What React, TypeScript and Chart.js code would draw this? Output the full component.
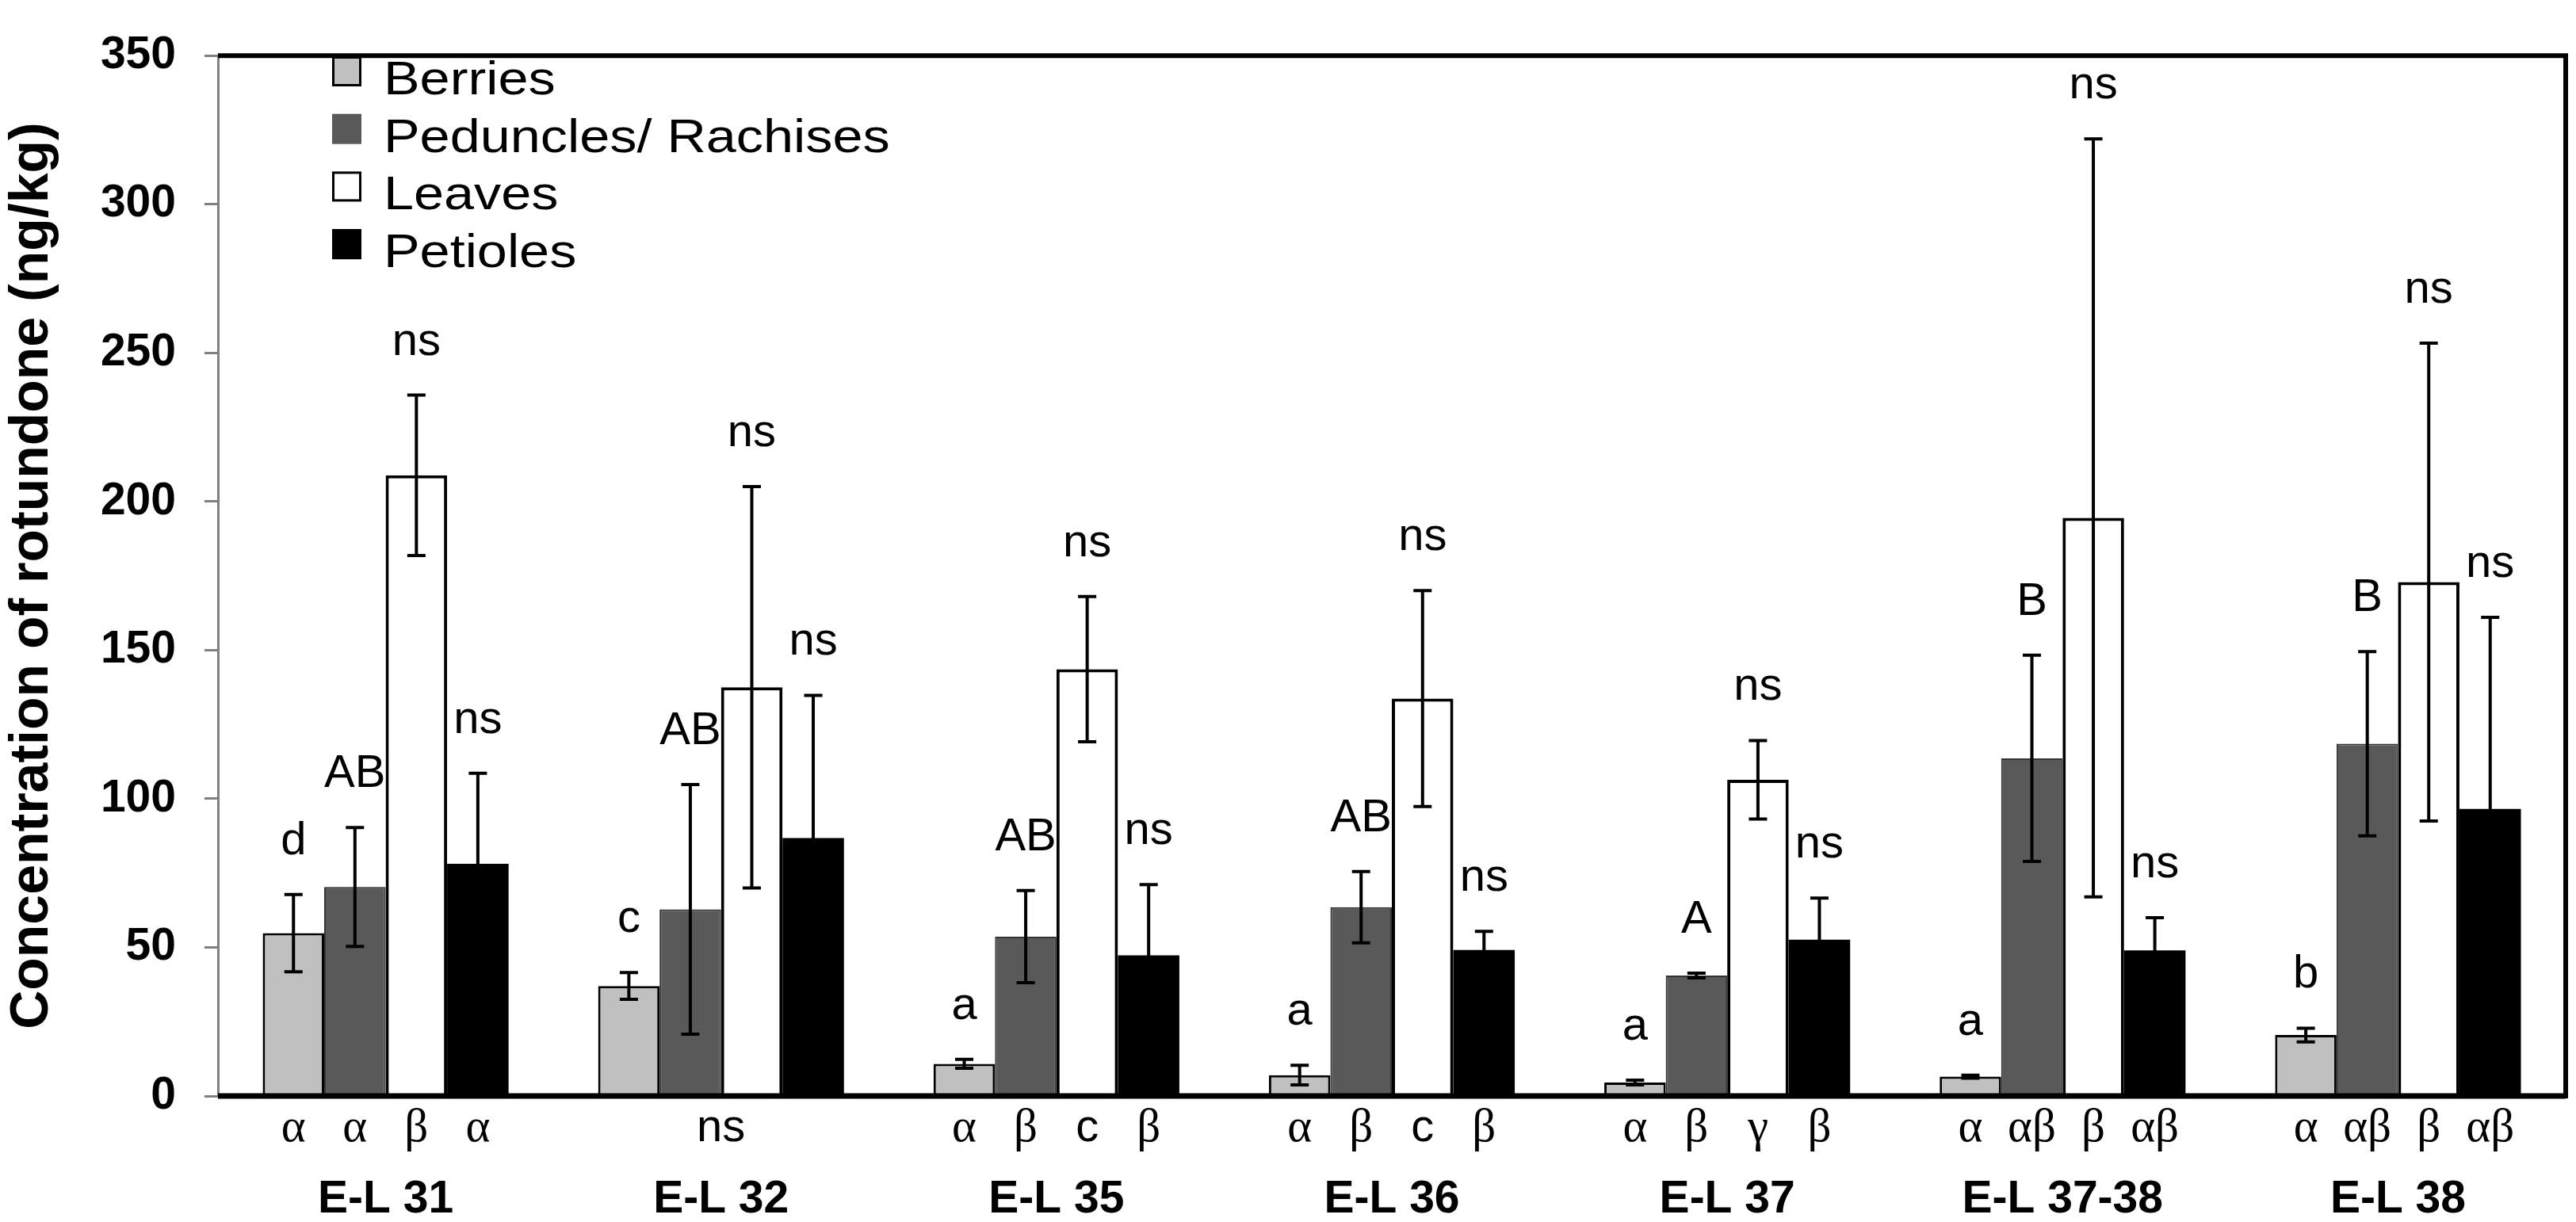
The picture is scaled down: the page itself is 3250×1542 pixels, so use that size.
import React, { useEffect, useRef } from 'react';
import { Chart, registerables } from 'chart.js';

Chart.register(...registerables);

const groups = ['E-L 31', 'E-L 32', 'E-L 35', 'E-L 36', 'E-L 37', 'E-L 37-38', 'E-L 38'];
const seriesNames = ['Berries', 'Peduncles/ Rachises', 'Leaves', 'Petioles'];

const berries = [54.8, 37.0, 10.8, 7.0, 4.5, 6.5, 20.5];
const berriesErr = [13.0, 4.5, 1.5, 3.3, 0.8, 0.5, 2.3];
const peduncles = [70.3, 62.8, 53.6, 63.5, 40.5, 113.6, 118.5];
const pedunclesErr = [20.0, 42.0, 15.5, 12.0, 0.8, 34.7, 31.0];
const leaves = [208.8, 137.5, 143.6, 133.7, 106.4, 194.5, 172.9];
const leavesErr = [27.0, 67.5, 24.4, 36.3, 13.2, 127.5, 80.4];
const petioles = [78.1, 86.8, 47.3, 49.1, 52.6, 49.0, 96.6];
const petiolesErr = [30.5, 48.0, 23.8, 6.3, 14.0, 11.0, 64.4];

const berriesLetters = ['d', 'c', 'a', 'a', 'a', 'a', 'b'];
const pedunclesLetters = ['AB', 'AB', 'AB', 'AB', 'A', 'B', 'B'];
const leavesLetters = ['ns', 'ns', 'ns', 'ns', 'ns', 'ns', 'ns'];
const petiolesLetters = ['ns', 'ns', 'ns', 'ns', 'ns', 'ns', 'ns'];

// letters below the axis, per group (a single entry is centred under the whole group)
const belowLetters = [
  ['α', 'α', 'β', 'α'],
  ['ns'],
  ['α', 'β', 'c', 'β'],
  ['α', 'β', 'c', 'β'],
  ['α', 'β', 'γ', 'β'],
  ['α', 'αβ', 'β', 'αβ'],
  ['α', 'αβ', 'β', 'αβ'],
];

const yTicks = [0, 50, 100, 150, 200, 250, 300, 350];

const values = [berries, peduncles, leaves, petioles];
const errors = [berriesErr, pedunclesErr, leavesErr, petiolesErr];
const letters = [berriesLetters, pedunclesLetters, leavesLetters, petiolesLetters];

const fills = ['#c0c0c0', '#595959', '#ffffff', '#000000'];
const borders = ['#000000', '#333333', '#000000', '#000000'];
const borderWidths = [3, 2, 4, 0];

const SANS = '"Liberation Sans", Arial, Helvetica, sans-serif';
const SERIF = '"Liberation Serif", "Times New Roman", serif';

function drawStretched(ctx: any, text: string, x: number, y: number, sx: number, align: string) {
  ctx.save();
  ctx.translate(x, y);
  ctx.scale(sx, 1);
  ctx.textAlign = align;
  ctx.fillText(text, 0, 0);
  ctx.restore();
}

const overlay = {
  id: 'overlay',
  afterDatasetsDraw(chart: any) {
    const ctx = chart.ctx;
    const ys = chart.scales.y;
    const xs = chart.scales.x;
    const area = chart.chartArea;
    ctx.save();
    // error bars
    ctx.strokeStyle = '#000';
    ctx.lineWidth = 4;
    errors.forEach((errArr, di) => {
      const meta = chart.getDatasetMeta(di);
      meta.data.forEach((el: any, i: number) => {
        const v = values[di][i];
        const e = errArr[i];
        const yt = ys.getPixelForValue(v + e);
        const yb = ys.getPixelForValue(v - e);
        ctx.beginPath();
        ctx.moveTo(el.x, yt);
        ctx.lineTo(el.x, yb);
        ctx.moveTo(el.x - 11.5, yt);
        ctx.lineTo(el.x + 11.5, yt);
        ctx.moveTo(el.x - 11.5, yb);
        ctx.lineTo(el.x + 11.5, yb);
        ctx.stroke();
      });
    });
    // x axis line and plot border
    const y0 = ys.getPixelForValue(0);
    ctx.lineWidth = 7;
    ctx.beginPath();
    ctx.moveTo(area.left, y0);
    ctx.lineTo(area.right, y0);
    ctx.stroke();
    ctx.lineWidth = 6;
    ctx.beginPath();
    ctx.moveTo(area.left, area.top);
    ctx.lineTo(area.right, area.top);
    ctx.lineTo(area.right, y0 + 3);
    ctx.stroke();

    // annotations above bars
    ctx.fillStyle = '#000';
    ctx.textAlign = 'center';
    ctx.textBaseline = 'alphabetic';
    ctx.font = `58px ${SANS}`;
    letters.forEach((arr, di) => {
      const meta = chart.getDatasetMeta(di);
      meta.data.forEach((el: any, i: number) => {
        const top = ys.getPixelForValue(values[di][i] + errors[di][i]);
        ctx.fillText(arr[i], el.x, top - 51);
      });
    });

    // letters below axis (Greek in a serif face, Latin in sans)
    const fontFor = (t: string) => (/[α-ω]/.test(t) ? `59px ${SERIF}` : `58px ${SANS}`);
    belowLetters.forEach((arr, gi) => {
      if (arr.length === 1) {
        ctx.font = fontFor(arr[0]);
        ctx.fillText(arr[0], xs.getPixelForValue(gi), 1440);
      } else {
        arr.forEach((t, di) => {
          const el = chart.getDatasetMeta(di).data[gi];
          ctx.font = fontFor(t);
          ctx.fillText(t, el.x, 1440);
        });
      }
    });

    // group labels
    ctx.font = `bold 57px ${SANS}`;
    groups.forEach((g, gi) => {
      ctx.fillText(g, xs.getPixelForValue(gi), 1530);
    });

    // legend
    ctx.font = `60px ${SANS}`;
    seriesNames.forEach((name, di) => {
      const cy = 90 + 72.7 * di;
      const bx = 419, bw = 37, bh = 38;
      ctx.fillStyle = fills[di];
      ctx.fillRect(bx, cy - bh / 2, bw, bh);
      if (di !== 1) {
        ctx.strokeStyle = '#000';
        ctx.lineWidth = 3;
        ctx.strokeRect(bx + 1.5, cy - bh / 2 + 1.5, bw - 3, bh - 3);
      }
      ctx.fillStyle = '#000';
      drawStretched(ctx, name, 484, cy + 29, 1.14, 'left');
    });
    ctx.restore();
  },
};

export default function App() {
  const ref = useRef<HTMLCanvasElement | null>(null);
  useEffect(() => {
    if (!ref.current) return;
    const chart = new Chart(ref.current, {
      type: 'bar',
      data: {
        labels: groups,
        datasets: seriesNames.map((name, di) => ({
          label: name,
          data: values[di],
          backgroundColor: fills[di],
          borderColor: borders[di],
          borderWidth: borderWidths[di],
          categoryPercentage: 0.733,
          barPercentage: 1.0,
        })),
      },
      options: {
        animation: false,
        responsive: true,
        maintainAspectRatio: false,
        devicePixelRatio: 1,
        layout: { padding: { left: 0, right: 13, top: 35, bottom: 0 } },
        plugins: {
          legend: { display: false },
          tooltip: { enabled: false },
        },
        scales: {
          x: {
            type: 'category',
            offset: true,
            grid: { display: false },
            border: { display: false },
            ticks: { display: false },
            afterFit: (s: any) => {
              s.height = 159;
            },
          },
          y: {
            min: 0,
            max: 350,
            afterBuildTicks: (s: any) => {
              s.ticks = yTicks.map((v) => ({ value: v }));
            },
            grid: {
              drawOnChartArea: false,
              drawTicks: true,
              tickLength: 17,
              color: '#808080',
              lineWidth: 3,
            },
            border: { display: true, color: '#808080', width: 3 },
            ticks: {
              color: '#000',
              padding: 36,
              font: { family: SANS, size: 57, weight: 'bold' },
            },
            title: {
              display: true,
              text: 'Concentration of rotundone (ng/kg)',
              color: '#000',
              font: { family: SANS, size: 68, weight: 'bold' },
              padding: { top: 0, bottom: 0 },
            },
            afterFit: (s: any) => {
              s.width = 275;
            },
          },
        },
      },
      plugins: [overlay],
    } as any);
    return () => chart.destroy();
  }, []);
  return (
    <div style={{ position: 'fixed', left: 0, top: 0, width: 3250, height: 1542, background: '#fff' }}>
      <canvas ref={ref} />
    </div>
  );
}
